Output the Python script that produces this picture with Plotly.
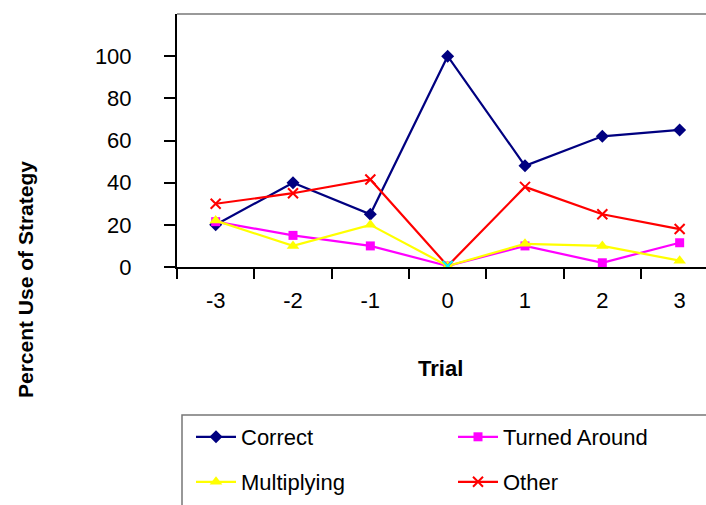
import plotly.graph_objects as go

# Trial positions relative to the target trial
trials = ["-3", "-2", "-1", "0", "1", "2", "3"]

# Percent use of each strategy per trial
correct = [20, 40, 25, 100, 48, 62, 65]
turned_around = [21.5, 15, 10, 0.5, 10, 2, 11.5]
multiplying = [22, 10, 20, 0.5, 11, 10, 3]
other = [30, 35, 41.5, 0.5, 38, 25, 18]
other_marker_colors = ["#FF0000", "#FF0000", "#FF0000", "#00FFFF", "#FF0000", "#FF0000", "#FF0000"]

y_ticks = [0, 20, 40, 60, 80, 100]

W, H = 706, 505
L, T, B = 177, 14, 267  # plot area edges in pixels
FONT = "Liberation Sans, Arial, sans-serif"
FS = 22

plot_w = W - L
plot_h = B - T


def px_x(px):
    return (px - L) / plot_w


def px_y(py):
    return (B - py) / plot_h


fig = go.Figure()

fig.add_trace(go.Scatter(
    x=trials, y=correct, name="Correct", mode="lines+markers",
    line=dict(color="#000080", width=2.2),
    marker=dict(symbol="diamond", size=10, color="#000080"),
    legend="legend",
))
fig.add_trace(go.Scatter(
    x=trials, y=turned_around, name="Turned Around", mode="lines+markers",
    line=dict(color="#FF00FF", width=2.2),
    marker=dict(symbol="square", size=9, color="#FF00FF"),
    legend="legend2",
))
fig.add_trace(go.Scatter(
    x=trials, y=multiplying, name="Multiplying", mode="lines+markers",
    line=dict(color="#FFFF00", width=2.2),
    marker=dict(symbol="triangle-up", size=11, color="#FFFF00"),
    legend="legend3",
))
fig.add_trace(go.Scatter(
    x=trials, y=other, name="Other", mode="lines+markers",
    line=dict(color="#FF0000", width=2.2),
    marker=dict(symbol="x-thin", size=10, color=other_marker_colors,
                line=dict(width=2, color=other_marker_colors)),
    legend="legend4",
))

cat_px = 77.33
x_end = -0.5 + plot_w / cat_px

legend_common = dict(
    orientation="v", xref="container", yref="container",
    xanchor="left", yanchor="middle", itemwidth=40,
    font=dict(family=FONT, size=FS, color="#000000"),
    bgcolor="rgba(0,0,0,0)", borderwidth=0,
)

col1_x, col2_x = 191, 453
row1_y, row2_y = 437, 482

fig.update_layout(
    width=W, height=H,
    margin=dict(l=L, r=0, t=T, b=H - B, pad=0, autoexpand=False),
    paper_bgcolor="white", plot_bgcolor="white",
    font=dict(family=FONT, size=FS, color="#000000"),
    showlegend=True,
    legend=dict(**legend_common, x=col1_x / W, y=1 - row1_y / H),
    legend2=dict(**legend_common, x=col2_x / W, y=1 - row1_y / H),
    legend3=dict(**legend_common, x=col1_x / W, y=1 - row2_y / H),
    legend4=dict(**legend_common, x=col2_x / W, y=1 - row2_y / H),
    xaxis=dict(
        type="category", range=[-0.5, x_end], tickson="boundaries",
        showline=True, linecolor="#000000", linewidth=2,
        ticks="outside", ticklen=10, tickwidth=1.5, tickcolor="#000000",
        ticklabelstandoff=13, showgrid=False, zeroline=False,
        tickfont=dict(family=FONT, size=FS),
    ),
    yaxis=dict(
        range=[0, 120], tickvals=y_ticks,
        showline=True, linecolor="#000000", linewidth=2,
        ticks="outside", ticklen=11, tickwidth=1.5, tickcolor="#000000",
        ticklabelstandoff=28, showgrid=False, zeroline=False,
        tickfont=dict(family=FONT, size=FS),
    ),
    shapes=[
        # top border of the plot area
        dict(type="line", xref="paper", yref="paper", x0=0, x1=1.05, y0=1, y1=1,
             line=dict(color="#999999", width=2)),
        # legend frame
        dict(type="rect", xref="paper", yref="paper",
             x0=px_x(182), x1=1.1, y0=px_y(530), y1=px_y(415),
             line=dict(color="#777777", width=1.5), fillcolor="rgba(0,0,0,0)"),
    ],
    annotations=[
        dict(text="<b>Trial</b>", xref="paper", yref="paper",
             x=px_x(440), y=px_y(368), xanchor="center", yanchor="middle",
             showarrow=False, font=dict(family=FONT, size=FS)),
        dict(text="<b>Percent Use of Strategy</b>", xref="paper", yref="paper",
             x=px_x(25), y=px_y(280), xanchor="center", yanchor="middle",
             textangle=-90, showarrow=False, font=dict(family=FONT, size=21)),
    ],
)

fig.write_html("out.html")
